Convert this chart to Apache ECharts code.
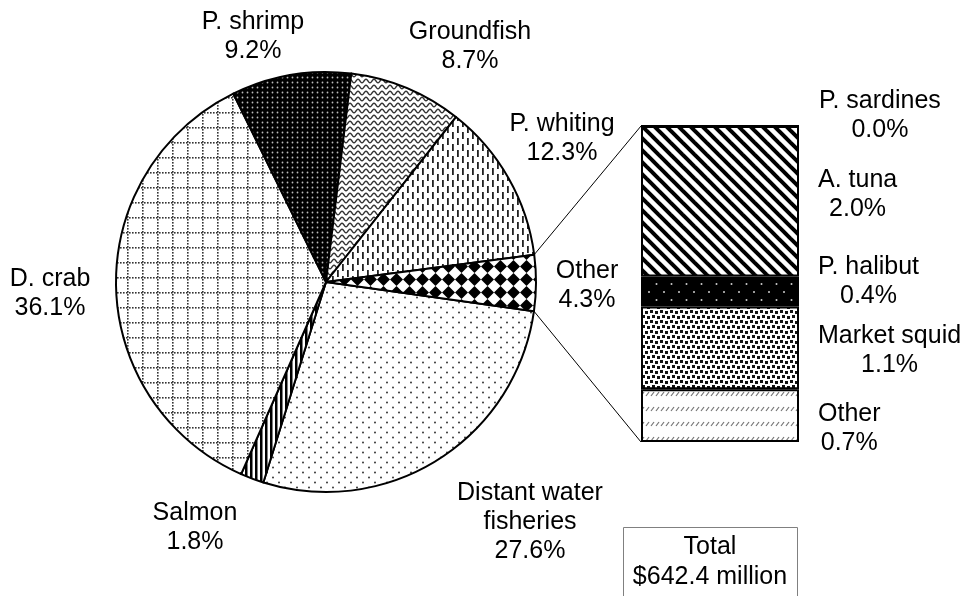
<!DOCTYPE html>
<html>
<head>
<meta charset="utf-8">
<script src="https://cdn.jsdelivr.net/npm/echarts@6/dist/echarts.min.js"></script>
<style>
  html, body { margin: 0; padding: 0; background: #fff; }
  #chart { width: 971px; height: 596px; }
</style>
</head>
<body>
<div id="chart"></div>
<script>
// data (percent of total revenue)
const pieNames = ['Distant water\nfisheries', 'Salmon', 'D. crab', 'P. shrimp', 'Groundfish', 'P. whiting', 'Other'];
const pieValues = [27.6, 1.8, 36.1, 9.2, 8.7, 12.3, 4.3];
const barNames = ['P. sardines', 'A. tuna', 'P. halibut', 'Market squid', 'Other'];
const barValues = [0.0, 2.0, 0.4, 1.1, 0.7];
const totalLines = ['Total', '$642.4 million'];

const FONT = '"Liberation Sans", Arial, sans-serif';
const PIE_CX = 326, PIE_CY = 282, PIE_R = 210;
const START = 352; // lower edge of the exploded "Other" slice
const GRID = { left: 641, top: 126, width: 158, height: 316 };

// label centres for the pie, and small vertical nudges for the bar labels
const pieLabelPos = [[530, 522], [195, 528], [50, 294], [253, 37], [470, 47], [562, 139], [587, 286]];
const barLabelShift = [-10, -7, -10, 3, 13];

function pattern(w, h, draw) {
  const c = document.createElement('canvas');
  c.width = w; c.height = h;
  const ctx = c.getContext('2d');
  ctx.fillStyle = '#fff';
  ctx.fillRect(0, 0, w, h);
  draw(ctx, w, h);
  return { image: c, repeat: 'repeat' };
}
function dot(ctx, x, y, r, col) {
  ctx.fillStyle = col;
  ctx.beginPath();
  ctx.arc(x, y, r, 0, Math.PI * 2);
  ctx.fill();
}

const piePatterns = [
  // distant water: sparse dots
  pattern(12, 10, (ctx) => { dot(ctx, 3, 2.5, 0.9, '#222'); dot(ctx, 9, 7.5, 0.9, '#222'); }),
  // salmon: vertical stripes
  pattern(5, 4, (ctx, w, h) => { ctx.fillStyle = '#000'; ctx.fillRect(0, 0, 2.5, h); }),
  // d. crab: dotted grid
  pattern(15, 15, (ctx) => {
    ctx.fillStyle = '#333';
    for (let i = 0; i < 15; i += 3) { ctx.fillRect(i, 7, 1.6, 1.6); ctx.fillRect(7, i, 1.6, 1.6); }
  }),
  // p. shrimp: black with light dots
  pattern(5, 5, (ctx, w, h) => { ctx.fillStyle = '#000'; ctx.fillRect(0, 0, w, h); dot(ctx, 2.5, 2.5, 0.9, '#bbb'); }),
  // groundfish: waves
  pattern(8, 6, (ctx) => {
    ctx.strokeStyle = '#333'; ctx.lineWidth = 1.4; ctx.beginPath();
    for (let x = -1; x <= 9; x += 0.5) {
      const y = 3 + 1.8 * Math.sin(x / 8 * Math.PI * 2);
      if (x === -1) ctx.moveTo(x, y); else ctx.lineTo(x, y);
    }
    ctx.stroke();
  }),
  // p. whiting: vertical dashes
  pattern(10, 24, (ctx) => {
    ctx.fillStyle = '#222';
    ctx.fillRect(2, 0, 1.8, 7); ctx.fillRect(2, 12, 1.8, 7);
    ctx.fillRect(7, 6, 1.8, 7); ctx.fillRect(7, 18, 1.8, 6); ctx.fillRect(7, 0, 1.8, 1);
  }),
  // other: diamonds
  pattern(13, 13, (ctx) => {
    ctx.fillStyle = '#000'; ctx.beginPath();
    ctx.moveTo(6.5, 0); ctx.lineTo(13, 6.5); ctx.lineTo(6.5, 13); ctx.lineTo(0, 6.5);
    ctx.closePath(); ctx.fill();
  })
];

const barPatterns = [
  '#fff',
  // a. tuna: diagonal stripes
  pattern(12, 12, (ctx) => {
    ctx.strokeStyle = '#000'; ctx.lineWidth = 4;
    for (let k = -1; k <= 1; k++) { ctx.beginPath(); ctx.moveTo(k * 12 - 2, -2); ctx.lineTo(k * 12 + 14, 14); ctx.stroke(); }
  }),
  // p. halibut: black with sparse dots
  pattern(15, 16, (ctx, w, h) => { ctx.fillStyle = '#000'; ctx.fillRect(0, 0, w, h); dot(ctx, 4, 4, 1, '#ccc'); dot(ctx, 11.5, 12, 1, '#ccc'); }),
  // market squid: small squares, slightly irregular
  pattern(10, 10, (ctx) => {
    ctx.fillStyle = '#111';
    ctx.fillRect(0, 0, 3, 3); ctx.fillRect(5, 1, 3, 3);
    ctx.fillRect(2, 5, 3, 3); ctx.fillRect(7, 6, 3, 3);
  }),
  // other: rows of short hashes
  pattern(5, 15, (ctx) => {
    ctx.strokeStyle = '#777'; ctx.lineWidth = 1.2;
    ctx.beginPath(); ctx.moveTo(1, 6); ctx.lineTo(4, 2); ctx.stroke();
  })
];

const textStyle = { color: '#000', fontSize: 25, lineHeight: 29, fontFamily: FONT };

const chart = echarts.init(document.getElementById('chart'), null, { renderer: 'canvas' });

// connector lines from the "Other" slice edges to the bar corners
const otherAngle = 360 * pieValues[pieValues.length - 1] / pieValues.reduce((a, b) => a + b, 0);
function piePoint(deg) {
  const a = deg * Math.PI / 180;
  return [PIE_CX + PIE_R * Math.cos(a), PIE_CY - PIE_R * Math.sin(a)];
}
const pTop = piePoint(START + otherAngle);
const pBot = piePoint(START);
const barSum = barValues.reduce((a, b) => a + b, 0);

chart.setOption({
  animation: false,
  backgroundColor: '#fff',
  grid: { left: GRID.left, top: GRID.top, width: GRID.width, height: GRID.height },
  xAxis: { type: 'category', data: [''], show: false },
  yAxis: { type: 'value', min: 0, max: barSum, inverse: true, show: false },
  series: [
    {
      type: 'pie',
      silent: true,
      center: [PIE_CX, PIE_CY],
      radius: PIE_R,
      startAngle: START,
      clockwise: true,
      avoidLabelOverlap: false,
      itemStyle: { borderColor: '#000', borderWidth: 2 },
      label: Object.assign({
        show: true,
        position: 'outside',
        align: 'center',
        formatter: (p) => p.name + '\n' + p.value.toFixed(1) + '%'
      }, textStyle),
      labelLine: { show: false },
      labelLayout: (p) => {
        const pos = pieLabelPos[p.dataIndex];
        return { x: pos[0], y: pos[1], align: 'center', verticalAlign: 'middle' };
      },
      data: pieNames.map((n, i) => ({ name: n, value: pieValues[i], itemStyle: { color: piePatterns[i] } }))
    }
  ].concat(barNames.map((n, i) => ({
    type: 'bar',
    name: n,
    stack: 'other',
    silent: true,
    barWidth: '100%',
    data: [barValues[i]],
    itemStyle: { color: barPatterns[i], borderColor: '#000', borderWidth: 2 },
    label: Object.assign({
      show: true,
      position: 'right',
      distance: 19,
      formatter: (p) => p.seriesName + '\n' + p.value.toFixed(1) + '%'
    }, textStyle),
    labelLayout: (p) => ({
      x: p.labelRect.x + p.labelRect.width / 2,
      y: p.labelRect.y + p.labelRect.height / 2 + barLabelShift[i],
      align: 'center',
      verticalAlign: 'middle'
    })
  }))),
  graphic: [
    { type: 'line', silent: true, shape: { x1: pTop[0], y1: pTop[1], x2: GRID.left, y2: GRID.top }, style: { stroke: '#000', lineWidth: 1 } },
    { type: 'line', silent: true, shape: { x1: pBot[0], y1: pBot[1], x2: GRID.left, y2: GRID.top + GRID.height }, style: { stroke: '#000', lineWidth: 1 } },
    { type: 'rect', silent: true, shape: { x: 623.5, y: 527.5, width: 174, height: 80 }, style: { fill: '#fff', stroke: '#808080', lineWidth: 1 } },
    { type: 'text', silent: true, x: 710, y: 547, style: { text: totalLines[0], fill: '#000', font: '25px ' + FONT, align: 'center', verticalAlign: 'middle' } },
    { type: 'text', silent: true, x: 710, y: 577, style: { text: totalLines[1], fill: '#000', font: '25px ' + FONT, align: 'center', verticalAlign: 'middle' } }
  ]
});
</script>
</body>
</html>
